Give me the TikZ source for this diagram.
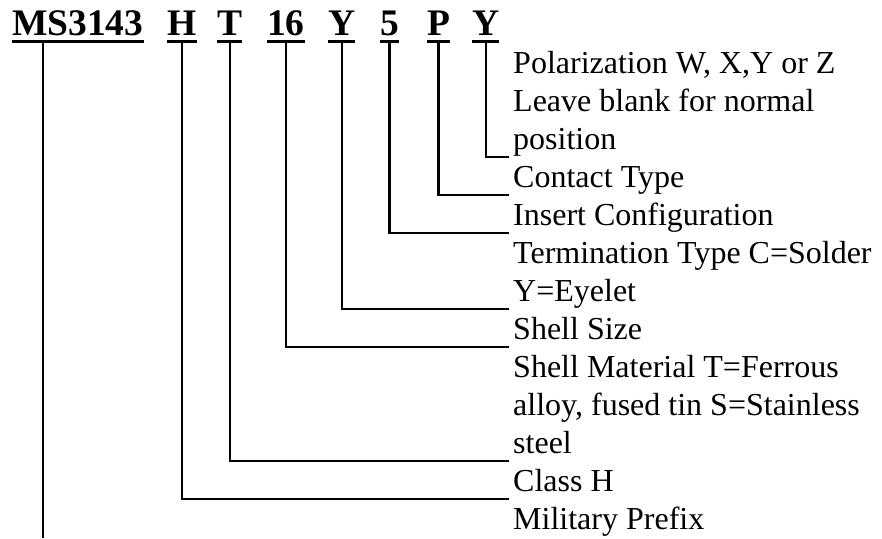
\documentclass[tikz,border=0pt]{standalone}
\usepackage{fontspec}
\setmainfont{Liberation Serif}
\usepackage{tikz}
\newcommand\lowstrut{\rule[-8pt]{0pt}{8pt}}
\tikzset{
  code/.style={anchor=base west,inner xsep=0pt,inner ysep=6.5pt,text height=26pt,text depth=0pt,
    font=\fontsize{37.5}{45}\selectfont\bfseries},
  desc/.style={anchor=base west,align=left,inner xsep=4pt,inner ysep=0pt,
    font=\fontsize{32}{38}\selectfont},
  lead/.style={line width=2.4pt},
  bar/.style={line width=3.5pt}
}

\begin{document}
\begin{tikzpicture}[x=1pt,y=-1pt]
  \useasboundingbox (0,0) rectangle (882,538);
  \node[code] (ms) at (12,35) {MS3143};
  \node[code] (cls) at (167,35) {H};
  \node[code] (mat) at (217,35) {T};
  \node[code] (size) at (267,35) {16};
  \node[code] (term) at (328,35) {Y};
  \node[code] (ins) at (380,35) {5};
  \node[code] (cont) at (427,35) {P};
  \node[code] (pol) at (472,35) {Y};
  \foreach \n in {ms,cls,mat,size,term,ins,cont,pol}
    \draw[bar] (\n.south west) -- (\n.south east);
  \node[desc] (polD) at (509,149) {Polarization W, X,Y or Z\\Leave blank for normal\\position\lowstrut};
  \node[desc] (contD) at (509,187) {Contact Type\lowstrut};
  \node[desc] (insD) at (509,225) {Insert Configuration\lowstrut};
  \node[desc] (termD) at (509,301) {Termination Type C=Solder\\Y=Eyelet\lowstrut};
  \node[desc] (sizeD) at (509,339) {Shell Size\lowstrut};
  \node[desc] (matD) at (509,453) {Shell Material T=Ferrous\\alloy, fused tin S=Stainless\\steel\lowstrut};
  \node[desc] (clsD) at (509,491) {Class H\lowstrut};
  \node[desc] (msD) at (509,529) {Military Prefix};
  \coordinate (msend) at (43,538);
  \draw[lead] (pol.south) |- (polD.south west);
  \draw[lead] (cont.south) |- (contD.south west);
  \draw[lead] (ins.south) |- (insD.south west);
  \draw[lead] (term.south) |- (termD.south west);
  \draw[lead] (size.south) |- (sizeD.south west);
  \draw[lead] (mat.south) |- (matD.south west);
  \draw[lead] (cls.south) |- (clsD.south west);
  \draw[lead] (ms.south -| msend) -- (msend);
\end{tikzpicture}
\end{document}
